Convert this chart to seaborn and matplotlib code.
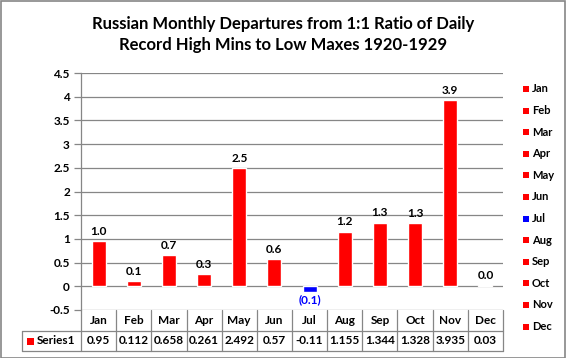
import matplotlib
matplotlib.use("Agg")
import matplotlib.pyplot as plt
import matplotlib.transforms as mtransforms
from matplotlib.patches import Rectangle
from decimal import Decimal, ROUND_HALF_UP
import seaborn as sns
import pandas as pd

months = ["Jan", "Feb", "Mar", "Apr", "May", "Jun", "Jul", "Aug", "Sep", "Oct", "Nov", "Dec"]
values = [0.95, 0.112, 0.658, 0.261, 2.492, 0.57, -0.11, 1.155, 1.344, 1.328, 3.935, 0.03]
value_text = ["0.95", "0.112", "0.658", "0.261", "2.492", "0.57", "-0.11", "1.155", "1.344", "1.328", "3.935", "0.03"]
bar_colors = ["#FF0000"] * 6 + ["#0000FF"] + ["#FF0000"] * 5
series_name = "Series1"
title = "Russian Monthly Departures from 1:1 Ratio of Daily\nRecord High Mins to Low Maxes 1920-1929"
yticks = [-0.5, 0, 0.5, 1, 1.5, 2, 2.5, 3, 3.5, 4, 4.5]
ytick_labels = ["-0.5", "0", "0.5", "1", "1.5", "2", "2.5", "3", "3.5", "4", "4.5"]

sns.set_theme(style="white")
plt.rcParams['font.family'] = ['Lato', 'DejaVu Sans']
plt.rcParams['font.weight'] = 'bold'

W, H = 566, 358
GRAY = "#868686"
fig = plt.figure(figsize=(W / 100, H / 100), dpi=100)
fig.patch.set_facecolor("white")


def fy(px):
    return 1 - px / H


def fx(px):
    return px / W


ax_left, ax_right, ax_top, ax_bot = 81, 503, 73, 310
ax = fig.add_axes([fx(ax_left), fy(ax_bot), (ax_right - ax_left) / W, (ax_bot - ax_top) / H])

df = pd.DataFrame({"month": months, "value": values})
sns.barplot(data=df, x="month", y="value", hue="month", palette=bar_colors,
            width=0.4, saturation=1, legend=False, ax=ax)
ax.set_xlim(-0.5, 11.5)
ax.set_ylim(-0.5, 4.5)
ax.set_yticks(yticks)
ax.set_yticklabels(ytick_labels, fontsize=8.5, fontweight="bold", color="black")
ax.set_xticks([])
ax.set_xlabel("")
ax.set_ylabel("")
ax.yaxis.grid(True, color=GRAY, lw=0.9)
ax.set_axisbelow(True)
for s in ["top", "right", "bottom"]:
    ax.spines[s].set_visible(False)
ax.spines["left"].set_color(GRAY)
ax.spines["left"].set_linewidth(0.9)
ax.tick_params(axis="y", which="major", length=5, width=0.9, color=GRAY, left=True, pad=3)


def fmt1(v):
    return str(Decimal(str(abs(v))).quantize(Decimal("0.1"), rounding=ROUND_HALF_UP))


# data labels
for i, v in enumerate(values):
    txt = fmt1(v)
    if v < 0:
        ax.annotate(f"({txt})", (i, v), xytext=(0, -2), textcoords="offset points",
                    ha="center", va="top", fontsize=8.5, fontweight="bold", color="#0000FF")
    else:
        ax.annotate(txt, (i, v), xytext=(0, 3), textcoords="offset points",
                    ha="center", va="bottom", fontsize=8.5, fontweight="bold", color="black")

# data table
tr = mtransforms.blended_transform_factory(ax.transData, fig.transFigure)
y_top, y_mid, y_bot = 310, 331, 351
for k in range(13):
    x = k - 0.5
    ax.add_line(plt.Line2D([x, x], [fy(y_top), fy(y_bot)], transform=tr, color=GRAY, lw=0.9, clip_on=False))
ax.add_line(plt.Line2D([fx(22), fx(503)], [fy(y_mid), fy(y_mid)], transform=fig.transFigure, color=GRAY, lw=0.9, clip_on=False))
ax.add_line(plt.Line2D([fx(22), fx(503)], [fy(y_bot), fy(y_bot)], transform=fig.transFigure, color=GRAY, lw=0.9, clip_on=False))
ax.add_line(plt.Line2D([fx(22), fx(22)], [fy(y_mid), fy(y_bot)], transform=fig.transFigure, color=GRAY, lw=0.9, clip_on=False))
for i, (m, t) in enumerate(zip(months, value_text)):
    ax.text(i, fy((y_top + y_mid) / 2), m, transform=tr, ha="center", va="center",
            fontsize=8.5, fontweight="bold", color="black")
    ax.text(i, fy((y_mid + y_bot) / 2), t, transform=tr, ha="center", va="center",
            fontsize=8.5, fontweight="bold", color="black")
fig.patches.append(Rectangle((fx(27), fy(345)), 7 / W, 7 / H, transform=fig.transFigure,
                             facecolor="#FF0000", edgecolor="none"))
fig.text(fx(37), fy((y_mid + y_bot) / 2), series_name, ha="left", va="center",
         fontsize=8.5, fontweight="bold", color="black")

# legend
for j, (m, c) in enumerate(zip(months, bar_colors)):
    yc = 89 + j * 21.6
    fig.patches.append(Rectangle((fx(523), fy(yc + 3)), 6 / W, 6 / H, transform=fig.transFigure,
                                 facecolor=c, edgecolor="none"))
    fig.text(fx(532), fy(yc), m, ha="left", va="center", fontsize=8, fontweight="bold", color="black")

# title
fig.text(0.5, fy(34.5), title, ha="center", va="center", fontsize=12, fontweight="bold",
         color="black", linespacing=1.45)

# chart border
fig.patches.append(Rectangle((0.5 / W, 0.5 / H), (W - 1.5) / W, (H - 1.5) / H, transform=fig.transFigure,
                             facecolor="none", edgecolor=GRAY, lw=1.2))

fig.savefig("out.png", dpi=100)
